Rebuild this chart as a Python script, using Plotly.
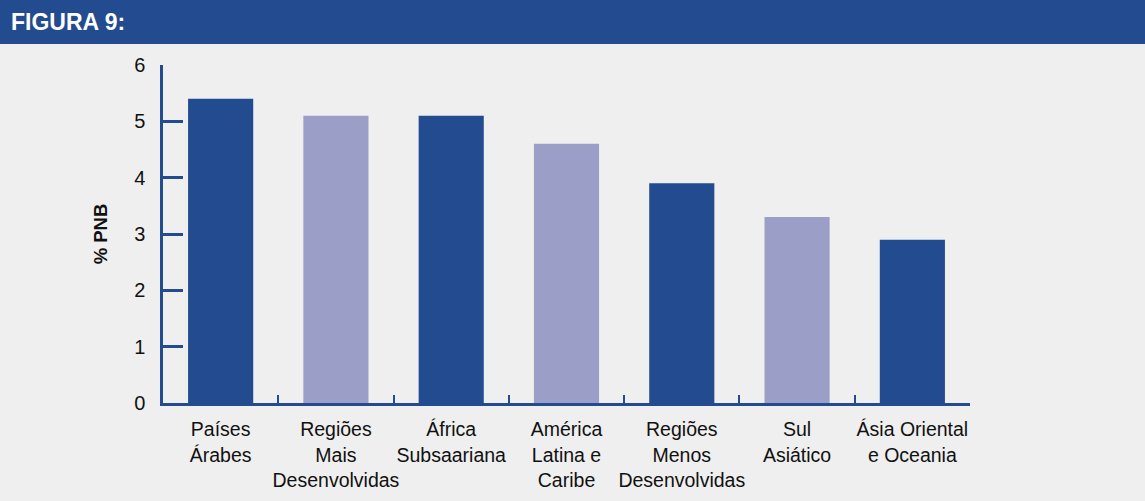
import plotly.graph_objects as go

# Despesa por região, em % do PNB
regioes = [
    "Países<br>Árabes",
    "Regiões<br>Mais<br>Desenvolvidas",
    "África<br>Subsaariana",
    "América<br>Latina e<br>Caribe",
    "Regiões<br>Menos<br>Desenvolvidas",
    "Sul<br>Asiático",
    "Ásia Oriental<br>e Oceania",
]
valores = [5.4, 5.1, 5.1, 4.6, 3.9, 3.3, 2.9]
y_ticks = [0, 1, 2, 3, 4, 5, 6]

AZUL = "#234b8f"
LILAS = "#9b9fc7"
FUNDO = "#efefef"
cores = [AZUL if i % 2 == 0 else LILAS for i in range(len(valores))]

W, H = 1145, 501
ML, MR, MT, MB = 163, 175, 65, 98
plot_w = W - ML - MR
plot_h = H - MT - MB

fig = go.Figure(
    go.Bar(
        x=regioes,
        y=valores,
        marker=dict(color=cores, line=dict(width=0)),
        width=0.565,
        hoverinfo="skip",
    )
)

fig.update_layout(
    width=W,
    height=H,
    margin=dict(l=ML, r=MR, t=MT, b=MB, autoexpand=False),
    paper_bgcolor=FUNDO,
    plot_bgcolor=FUNDO,
    font=dict(family="Liberation Sans, Arial, Helvetica, sans-serif", size=20, color="#111111"),
    showlegend=False,
)

fig.update_xaxes(
    type="category",
    range=[-0.5, len(regioes) - 0.5],
    showline=True,
    linecolor=AZUL,
    linewidth=2.5,
    ticks="inside",
    tickson="boundaries",
    ticklen=8,
    tickwidth=2,
    tickcolor=AZUL,
    tickangle=0,
    showgrid=False,
    zeroline=False,
    automargin=False,
    ticklabelstandoff=7,
    tickfont=dict(size=19.5, color="#111111"),
    fixedrange=True,
)

fig.update_yaxes(
    range=[0, 6],
    tickvals=y_ticks,
    showline=True,
    linecolor=AZUL,
    linewidth=2.5,
    ticks="inside",
    ticklen=20,
    tickwidth=2.5,
    tickcolor=AZUL,
    showgrid=False,
    zeroline=False,
    automargin=False,
    ticklabelstandoff=11,
    tickfont=dict(size=20, color="#111111"),
    title=dict(text="<b>% PNB</b>", font=dict(size=18.5, color="#111111"), standoff=22),
    fixedrange=True,
)

# Faixa de título no topo
fig.add_shape(
    type="rect",
    xref="paper",
    yref="paper",
    x0=-ML / plot_w,
    x1=1 + MR / plot_w,
    y0=1 + (MT - 44) / plot_h,
    y1=1 + (MT + 10) / plot_h,
    fillcolor=AZUL,
    line=dict(width=0),
    layer="below",
)
fig.add_annotation(
    text="<b>FIGURA 9:</b>",
    xref="paper",
    yref="paper",
    x=(9 - ML) / plot_w,
    y=1 + (MT - 22) / plot_h,
    xanchor="left",
    yanchor="middle",
    showarrow=False,
    font=dict(size=23, color="white"),
)

fig.write_html("out.html")
